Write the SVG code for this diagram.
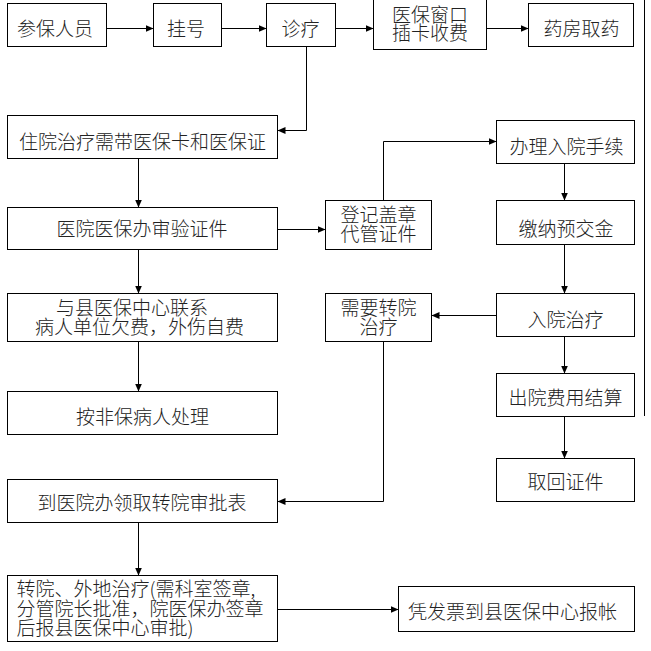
<svg xmlns="http://www.w3.org/2000/svg" width="651" height="651" viewBox="0 0 651 651">
<defs>
<marker id="ah" markerWidth="9" markerHeight="8" refX="8" refY="3.5" orient="auto" markerUnits="userSpaceOnUse">
<path d="M0,0 L8,3.5 L0,7 z" fill="#000"/>
</marker>
<style>
rect{fill:#fff;stroke:#000;stroke-width:1}
text{font-family:"Noto Sans CJK SC","Noto Sans",sans-serif;font-size:19px;font-weight:300;fill:#222;text-anchor:middle}
text.l{text-anchor:start}
.c path,.c line{fill:none;stroke:#000;stroke-width:1}
.a{marker-end:url(#ah)}
</style>
</defs>
<rect x="0" y="0" width="651" height="651" style="fill:#fff;stroke:none"/>

<g id="n1"><rect x="7.5" y="3.5" width="99" height="43"/><text x="55" y="36">参保人员</text></g>
<g id="n2"><rect x="153.5" y="3.5" width="68" height="43"/><text x="186" y="36">挂号</text></g>
<g id="n3"><rect x="266.5" y="3.5" width="69" height="43"/><text x="300.5" y="36">诊疗</text></g>
<g id="n4"><rect x="373.5" y="-1" width="113" height="50.5"/><text x="430" y="21.5">医保窗口</text><text x="430" y="40">插卡收费</text></g>
<g id="n5"><rect x="528.5" y="3.5" width="105" height="43"/><text x="581.5" y="36">药房取药</text></g>

<g id="n6"><rect x="7.5" y="115.5" width="270" height="43"/><text x="142.5" y="148.5">住院治疗需带医保卡和医保证</text></g>
<g id="n7"><rect x="7.5" y="207.5" width="270" height="42"/><text x="142" y="236">医院医保办审验证件</text></g>
<g id="n8"><rect x="7.5" y="293.5" width="270" height="48"/><text class="l" x="56" y="315">与县医保中心联系</text><text class="l" x="35" y="334">病人单位欠费，外伤自费</text></g>
<g id="n9"><rect x="7.5" y="391.5" width="270" height="43"/><text x="142.5" y="423.5">按非保病人处理</text></g>
<g id="n10"><rect x="7.5" y="479.5" width="270" height="43"/><text x="142" y="510">到医院办领取转院审批表</text></g>
<g id="n11"><rect x="7.5" y="575.5" width="270" height="66"/><text class="l" x="16.5" y="596">转院、外地治疗(需科室签章,</text><text class="l" x="16.5" y="616">分管院长批准，院医保办签章</text><text class="l" x="16.5" y="634.5">后报县医保中心审批)</text></g>

<g id="n12"><rect x="325.5" y="200.5" width="106" height="49"/><text x="378.5" y="222">登记盖章</text><text x="378.5" y="240.5">代管证件</text></g>
<g id="n13"><rect x="325.5" y="293.5" width="106" height="48"/><text x="378.5" y="315.3">需要转院</text><text x="378.5" y="333.7">治疗</text></g>

<g id="n14"><rect x="496.5" y="120.5" width="138" height="43"/><text x="566.5" y="154">办理入院手续</text></g>
<g id="n15"><rect x="496.5" y="200.5" width="138" height="44"/><text x="566" y="236">缴纳预交金</text></g>
<g id="n16"><rect x="496.5" y="293.5" width="138" height="43"/><text x="565.5" y="327">入院治疗</text></g>
<g id="n17"><rect x="496.5" y="373.5" width="138" height="43"/><text x="565.5" y="405.3">出院费用结算</text></g>
<g id="n18"><rect x="496.5" y="458.5" width="138" height="43"/><text x="565.5" y="488.7">取回证件</text></g>
<g id="n19"><rect x="398.5" y="586.5" width="236" height="45"/><text x="512.5" y="618.7">凭发票到县医保中心报帐</text></g>

<g id="connectors" class="c">
<line class="a" x1="106.5" y1="28.5" x2="153.5" y2="28.5"/>
<line class="a" x1="221.5" y1="28.5" x2="266.5" y2="28.5"/>
<line class="a" x1="335.5" y1="28.5" x2="373.5" y2="28.5"/>
<line class="a" x1="486.5" y1="28.5" x2="528.5" y2="28.5"/>
<path class="a" d="M306.5,46.5 V130.5 H277.5"/>
<line class="a" x1="138.5" y1="158.5" x2="138.5" y2="207.5"/>
<line class="a" x1="277.5" y1="229.5" x2="325.5" y2="229.5"/>
<path class="a" d="M383.5,200.5 V141.5 H496.5"/>
<line class="a" x1="564.5" y1="163.5" x2="564.5" y2="200.5"/>
<line class="a" x1="564.5" y1="244.5" x2="564.5" y2="293.5"/>
<line class="a" x1="496.5" y1="315.5" x2="431.5" y2="315.5"/>
<line class="a" x1="138.5" y1="249.5" x2="138.5" y2="293.5"/>
<line class="a" x1="138.5" y1="341.5" x2="138.5" y2="391.5"/>
<line class="a" x1="564.5" y1="336.5" x2="564.5" y2="373.5"/>
<line class="a" x1="564.5" y1="416.5" x2="564.5" y2="458.5"/>
<path class="a" d="M383.5,341.5 V501.5 H277.5"/>
<line class="a" x1="138.5" y1="522.5" x2="138.5" y2="575.5"/>
<line class="a" x1="277.5" y1="609.5" x2="398.5" y2="609.5"/>
<line x1="644.5" y1="0" x2="644.5" y2="416"/>
</g>
</svg>
